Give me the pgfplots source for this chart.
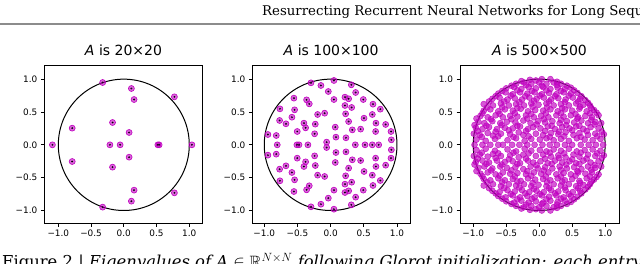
\documentclass[border=0pt]{standalone}
\usepackage{pgfplots}
\pgfplotsset{compat=1.18}
\usepackage{pgfplotstable}
\usepackage{amssymb}
\usepackage{fontspec}
\setmainfont{DejaVu Serif}
\newfontfamily\dejavu{DejaVu Sans}
\definecolor{mcol}{RGB}{191,0,191}

\pgfplotstableread{
x y
-0.323 0.949
0.116 0.858
0.157 0.690
0.773 0.731
-0.172 0.340
-0.788 0.254
0.081 0.188
}\upA
\pgfplotstableread{
x y
-1.09 0
-0.212 0
-0.056 0
0.52 0
0.54 0
1.04 0
}\reA

\pgfplotstableread{
x y
-0.296 0.944
0.050 0.980
-0.146 0.904
0.312 0.914
-0.035 0.812
0.377 0.797
-0.553 0.711
-0.362 0.685
-0.322 0.624
0.050 0.690
0.216 0.726
0.271 0.701
0.492 0.690
0.638 0.619
-0.764 0.548
-0.543 0.533
0.216 0.599
0.317 0.569
0.749 0.543
-0.583 0.421
-0.769 0.371
-0.673 0.320
-0.196 0.462
-0.090 0.482
0.226 0.472
0.503 0.406
0.628 0.462
-0.402 0.330
-0.377 0.259
-0.231 0.315
0.271 0.355
0.683 0.330
0.829 0.310
-0.241 0.168
-0.503 0.203
0.070 0.269
0.080 0.117
0.231 0.107
0.327 0.228
0.452 0.239
0.678 0.203
0.910 0.203
0.915 0.076
-0.945 0.157
-0.819 0.142
-0.060 0.041
}\upB
\pgfplotstableread{
x y
-0.804 0
-0.508 0
-0.477 0
-0.342 0
0.372 0
0.518 0
0.628 0
0.724 0
}\reB

\pgfplotstableread{
x y
-0.95 0.08
-0.81 0.06
-0.67 0.09
-0.48 0.07
-0.35 0.10
-0.22 0.06
-0.12 0.09
0.01 0.08
0.11 0.10
0.22 0.07
0.33 0.09
0.45 0.06
0.57 0.10
0.69 0.08
0.81 0.07
0.93 0.09
-0.99 0.17
-0.90 0.15
-0.78 0.18
-0.70 0.14
-0.58 0.17
-0.44 0.16
-0.31 0.19
-0.24 0.15
-0.05 0.17
0.06 0.15
0.18 0.18
0.29 0.16
0.40 0.19
0.52 0.15
0.61 0.18
0.74 0.15
0.85 0.17
0.98 0.16
-0.96 0.26
-0.86 0.24
-0.76 0.27
-0.64 0.24
-0.52 0.26
-0.40 0.25
-0.29 0.28
-0.17 0.24
-0.09 0.27
0.02 0.25
0.13 0.28
0.24 0.24
0.35 0.27
0.46 0.25
0.56 0.28
0.67 0.24
0.78 0.27
0.90 0.25
-0.92 0.35
-0.83 0.33
-0.71 0.36
-0.59 0.33
-0.49 0.35
-0.36 0.34
-0.24 0.37
-0.13 0.33
-0.02 0.36
0.09 0.34
0.20 0.36
0.31 0.33
0.42 0.36
0.53 0.34
0.64 0.37
0.74 0.33
0.85 0.35
0.94 0.33
-0.89 0.44
-0.78 0.42
-0.66 0.45
-0.55 0.42
-0.44 0.44
-0.33 0.43
-0.20 0.45
-0.08 0.42
0.03 0.44
0.14 0.42
0.26 0.45
0.37 0.43
0.48 0.45
0.59 0.42
0.70 0.44
0.80 0.42
0.90 0.45
-0.84 0.52
-0.74 0.54
-0.62 0.51
-0.52 0.54
-0.40 0.52
-0.28 0.55
-0.17 0.51
-0.06 0.53
0.06 0.52
0.17 0.54
0.28 0.51
0.39 0.54
0.50 0.52
0.61 0.55
0.72 0.51
0.83 0.53
-0.84 0.62
-0.70 0.60
-0.58 0.63
-0.46 0.60
-0.35 0.62
-0.23 0.60
-0.12 0.63
-0.01 0.61
0.11 0.63
0.22 0.60
0.33 0.62
0.45 0.60
0.56 0.63
0.67 0.61
0.77 0.60
-0.71 0.70
-0.60 0.72
-0.48 0.69
-0.37 0.71
-0.26 0.69
-0.15 0.72
-0.04 0.70
0.07 0.72
0.18 0.69
0.29 0.71
0.40 0.69
0.51 0.72
0.62 0.70
0.70 0.68
-0.62 0.78
-0.51 0.80
-0.40 0.77
-0.29 0.80
-0.18 0.78
-0.07 0.80
0.04 0.77
0.15 0.79
0.26 0.77
0.37 0.80
0.48 0.78
0.58 0.79
-0.50 0.86
-0.38 0.88
-0.27 0.85
-0.16 0.88
-0.05 0.86
0.06 0.88
0.17 0.85
0.28 0.87
0.39 0.85
0.48 0.87
-0.35 0.93
-0.23 0.95
-0.12 0.93
0.00 0.95
0.11 0.93
0.22 0.95
0.33 0.93
-0.14 0.99
0.04 1.00
0.17 1.00
-0.87 0.12
-0.62 0.13
-0.39 0.12
-0.16 0.13
0.16 0.12
0.38 0.13
0.63 0.12
0.88 0.13
-0.93 0.21
-0.66 0.20
-0.46 0.22
-0.20 0.21
0.09 0.21
0.30 0.20
0.50 0.22
0.72 0.21
0.95 0.20
-0.98 0.30
-0.80 0.29
-0.57 0.30
-0.33 0.29
-0.04 0.31
0.19 0.29
0.41 0.30
0.61 0.29
0.84 0.31
-0.95 0.40
-0.73 0.39
-0.42 0.39
-0.18 0.40
0.07 0.39
0.33 0.38
0.58 0.40
0.79 0.38
-0.86 0.48
-0.60 0.47
-0.37 0.48
-0.12 0.47
0.10 0.48
0.33 0.48
0.55 0.47
0.77 0.48
0.87 0.49
-0.79 0.57
-0.56 0.57
-0.33 0.56
-0.10 0.58
0.12 0.57
0.35 0.56
0.62 0.58
0.79 0.56
-0.76 0.66
-0.53 0.66
-0.30 0.65
-0.08 0.67
0.15 0.66
0.39 0.65
0.59 0.66
0.74 0.64
-0.66 0.74
-0.43 0.75
-0.21 0.74
0.01 0.75
0.24 0.74
0.45 0.75
0.64 0.74
-0.56 0.82
-0.33 0.83
-0.11 0.82
0.11 0.83
0.33 0.82
0.53 0.83
-0.42 0.90
-0.20 0.91
0.04 0.90
0.27 0.91
0.42 0.90
-0.27 0.97
-0.05 0.98
0.27 0.96
}\upC
\pgfplotstableread{
x y
-0.98 0
-0.86 0
-0.74 0
-0.62 0
-0.55 0
-0.41 0
-0.30 0
-0.18 0
-0.07 0
0.05 0
0.16 0
0.27 0
0.39 0
0.50 0
0.63 0
0.75 0
0.86 0
0.97 0
}\reC

\pgfplotsset{
  eig/.style={
    scale only axis, height=157.6bp,
    ymin=-1.195, ymax=1.205,
    axis line style={line width=0.8bp, black},
    tick align=outside, tick pos=left,
    major tick length=3.5bp,
    every tick/.style={line width=0.8bp, black},
    xtick={-1,-0.5,0,0.5,1}, ytick={-1,-0.5,0,0.5,1},
    xticklabels={−1.0,−0.5,0.0,0.5,1.0},
    yticklabels={−1.0,−0.5,0.0,0.5,1.0},
    tick label style={font=\dejavu\fontsize{8.9bp}{10bp}\selectfont},
    title style={font=\dejavu\fontsize{14bp}{16bp}\selectfont, at={(0.5,1)}, anchor=base, yshift=4.7bp, inner sep=0pt},
  },
  eigmark/.style={only marks, mark=*, mark size=3.0bp,
    mark options={draw=mcol, fill=mcol, fill opacity=0.6, line width=0.6bp}},
  eigmarkdense/.style={only marks, mark=*, mark size=3.0bp,
    mark options={draw=mcol, draw opacity=0.8, fill=mcol, fill opacity=0.65, line width=0.5bp}},
  eigdot/.style={only marks, mark=*, mark size=0.7bp,
    mark options={draw=none, fill=mcol}},
}

\begin{document}
\begin{tikzpicture}
\useasboundingbox (0,0) rectangle (640bp,264bp);
\clip (0,0) rectangle (640bp,264bp);

\node[overlay, anchor=base west, inner sep=0pt, font=\fontsize{13.3bp}{16bp}\selectfont] at (262bp,248bp) {Resurrecting Recurrent Neural Networks for Long Sequences};
\draw[black!45, line width=1.5bp] (0,240bp) -- (640bp,240bp);

\begin{axis}[eig, at={(44.3bp,40.7bp)}, anchor=south west, width=158.4bp,
  xmin=-1.214, xmax=1.205, title={{\itshape A} is 20×20}]
\draw[black, line width=1bp] (axis cs:0,0) circle [radius=1];
\addplot[eigmark] table {\upA};
\addplot[eigmark] table[y expr=-\thisrow{y}] {\upA};
\addplot[eigmark] table {\reA};
\addplot[eigdot] table {\upA};
\addplot[eigdot] table[y expr=-\thisrow{y}] {\upA};
\addplot[eigdot] table {\reA};
\end{axis}

\begin{axis}[eig, at={(252.3bp,40.7bp)}, anchor=south west, width=157.7bp,
  xmin=-1.18, xmax=1.196, title={{\itshape A} is 100×100}]
\draw[black, line width=1bp] (axis cs:0,0) circle [radius=1];
\addplot[eigmark] table {\upB};
\addplot[eigmark] table[y expr=-\thisrow{y}] {\upB};
\addplot[eigmark] table {\reB};
\addplot[eigdot] table {\upB};
\addplot[eigdot] table[y expr=-\thisrow{y}] {\upB};
\addplot[eigdot] table {\reB};
\end{axis}

\begin{axis}[eig, at={(460bp,40.7bp)}, anchor=south west, width=159bp,
  xmin=-1.2, xmax=1.21, title={{\itshape A} is 500×500}]
\draw[black, line width=1bp] (axis cs:0,0) circle [radius=1];
\addplot[eigmarkdense] table {\upC};
\addplot[eigmarkdense] table[y expr=-\thisrow{y}] {\upC};
\addplot[eigmarkdense] table {\reC};
\end{axis}

\node[overlay, anchor=base west, inner sep=0pt, font=\fontsize{16.4bp}{19bp}\selectfont] at (2bp,-3.5bp) {Figure 2 | \itshape Eigenvalues of A $\in\mathbb{R}^{N\times N}$ following Glorot initialization: each entry of A is sampled independently};
\end{tikzpicture}
\end{document}
